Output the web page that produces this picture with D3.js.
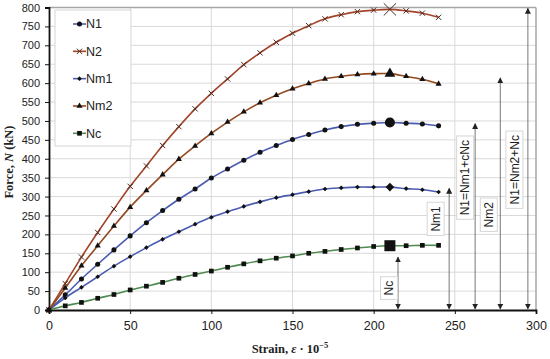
<!DOCTYPE html>
<html><head><meta charset="utf-8">
<script src="https://cdn.jsdelivr.net/npm/d3@7/dist/d3.min.js"></script>
<style>body{margin:0;background:#fff}svg{display:block}</style>
</head><body>
<svg id="c" width="550" height="359"></svg>
<script>
const strain = [0,10,20,30,40,50,60,70,80,90,100,110,120,130,140,150,160,170,180,190,200,210,220,230,240];
const N2  = [0,70,140,205,267,327,381,435,485,532,573,611,649,680,708,732,752,770,781,789,793,795,791,785,774];
const Nm2 = [0,58,117,170,222,272,316,358,399,434,467,497,524,548,568,585,599,611,618,623,625,625,618,610,598];
const N1  = [0,40,82,121,159,196,231,263,293,320,349,373,396,417,435,451,464,476,485,491,494,496,494,492,487];
const Nm1 = [0,32,60,88,116,141,165,187,207,227,245,260,274,286,297,305,313,320,323,325,325,325,321,318,312];
const Nc  = [0,11,20,31,41,53,63,73,84,94,103,113,122,130,137,143,150,155,160,164,168,170,170,171,171];
const peakIndex = 21;
const seriesNames = ["N1","N2","Nm1","Nm2","Nc"];
const xTicks = [0,50,100,150,200,250,300];
const yTicks = [0,50,100,150,200,250,300,350,400,450,500,550,600,650,700,750,800];
const annLabels = ["Nc","Nm1","N1=Nm1+cNc","Nm2","N1=Nm2+Nc"];
const annX   = [215,246.5,262.5,278,295];
const annTop = [140,322,493,614,798];
const annLabelY = [58,241,350,252,371];

const svg = d3.select("#c");
const x = d3.scaleLinear().domain([0,300]).range([49,536]);
const y = d3.scaleLinear().domain([0,800]).range([310,7.5]);

// gridlines
svg.append("g").selectAll("line").data(yTicks.slice(1,-1)).join("line")
  .attr("x1",x(0)).attr("x2",x(300)).attr("y1",d=>y(d)).attr("y2",d=>y(d))
  .attr("stroke","#d9d9d9").attr("stroke-width",1);
svg.append("g").selectAll("line").data(xTicks.slice(1,-1)).join("line")
  .attr("y1",y(0)).attr("y2",y(800)).attr("x1",d=>x(d)).attr("x2",d=>x(d))
  .attr("stroke","#d9d9d9").attr("stroke-width",1);
// border top / right
svg.append("line").attr("x1",x(0)).attr("x2",x(300)).attr("y1",y(800)).attr("y2",y(800)).attr("stroke","#a6a6a6").attr("stroke-width",1.5);
svg.append("line").attr("x1",x(300)).attr("x2",x(300)).attr("y1",y(800)).attr("y2",y(0)).attr("stroke","#a6a6a6").attr("stroke-width",1.5);

// axes
const xAxis = svg.append("g").attr("transform",`translate(0,${y(0)})`)
  .call(d3.axisBottom(x).tickValues(xTicks).tickSize(4).tickPadding(7));
xAxis.selectAll("text").attr("font-family","Liberation Sans, Arial").attr("font-size",12.5).attr("fill","#222");
xAxis.select(".domain").attr("stroke","#111").attr("stroke-width",1.8);
xAxis.selectAll(".tick line").attr("stroke","#111");
const yAxis = svg.append("g").attr("transform",`translate(${x(0)},0)`)
  .call(d3.axisLeft(y).tickValues(yTicks).tickSize(4).tickPadding(5));
yAxis.selectAll("text").attr("font-family","Liberation Sans, Arial").attr("font-size",11).attr("fill","#222");
yAxis.select(".domain").attr("stroke","#111").attr("stroke-width",1.8);
yAxis.selectAll(".tick line").attr("stroke","#111");

// titles
const xt = svg.append("text").attr("x",290).attr("y",353).attr("text-anchor","middle")
  .attr("font-family","Liberation Serif, serif").attr("font-weight","bold").attr("font-size",12.5).attr("fill","#222");
xt.append("tspan").text("Strain, ");
xt.append("tspan").attr("font-style","italic").text("ε");
xt.append("tspan").text(" · 10");
xt.append("tspan").attr("font-size",8.5).attr("dy",-5).text("−5");
const yt = svg.append("text").attr("transform","translate(13,162) rotate(-90)").attr("text-anchor","middle")
  .attr("font-family","Liberation Serif, serif").attr("font-weight","bold").attr("font-size",12.5).attr("fill","#222");
yt.append("tspan").text("Force, ");
yt.append("tspan").attr("font-style","italic").text("N");
yt.append("tspan").text(" (kN)");

// annotations
const defs = svg.append("defs");
defs.append("marker").attr("id","ah").attr("viewBox","0 0 10 10").attr("refX",9).attr("refY",5)
  .attr("markerWidth",6).attr("markerHeight",6).attr("orient","auto-start-reverse").attr("markerUnits","userSpaceOnUse")
  .append("path").attr("d","M0,0L10,5L0,10Z").attr("fill","#222");
const ann = svg.append("g");
annLabels.forEach((lab,i)=>{
  ann.append("line").attr("x1",x(annX[i])).attr("x2",x(annX[i])).attr("y1",y(0)-1).attr("y2",y(annTop[i]))
    .attr("stroke","#555").attr("stroke-width",0.8)
    .attr("marker-start","url(#ah)").attr("marker-end","url(#ah)");
});
annLabels.forEach((lab,i)=>{
  const cx = x(annX[i]) - (i===0?9:(i===2?10:(i===3?11.5:13.5)));
  const cy = y(annLabelY[i]);
  const g = ann.append("g").attr("transform",`translate(${cx},${cy}) rotate(-90)`);
  const t = g.append("text").attr("text-anchor","middle").attr("dy","0.35em")
    .attr("font-family","Liberation Sans, Arial").attr("font-size",12).attr("fill","#222").text(lab);
  const w = t.node().getComputedTextLength();
  g.insert("rect","text").attr("x",-w/2-4).attr("y",-8.5).attr("width",w+8).attr("height",17)
    .attr("fill","#fff").attr("stroke","#d6d6d6").attr("stroke-width",1);
});

// series
const series = [
  {name:"N1", vals:N1, color:"#4a5cb0", sym:d3.symbolCircle, s:20, big:80, stroke:false},
  {name:"N2", vals:N2, color:"#a3442a", sym:d3.symbolTimes, s:20, big:100, stroke:true},
  {name:"Nm1",vals:Nm1,color:"#4a5cb0", sym:d3.symbolDiamond2, s:14, big:48, stroke:false},
  {name:"Nm2",vals:Nm2,color:"#93481f", sym:d3.symbolTriangle, s:16, big:50, stroke:false},
  {name:"Nc", vals:Nc, color:"#4f8a4f", sym:d3.symbolSquare, s:22, big:121, stroke:false}
];
const line = d3.line().x((d,i)=>x(strain[i])).y(d=>y(d)).curve(d3.curveCatmullRom.alpha(0.5));
const plot = svg.append("g");
const drawSym = (sel, s, size, px, py) => {
  const p = sel.append("path").attr("d", d3.symbol(s.sym, size)())
    .attr("transform",`translate(${px},${py})`);
  if (s.stroke) p.attr("fill","none").attr("stroke","#4a2a20").attr("stroke-width",1);
  else p.attr("fill","#111");
};
series.forEach(s=>{
  plot.append("path").datum(s.vals).attr("d",line).attr("fill","none").attr("stroke",s.color).attr("stroke-width",1.6);
  s.vals.forEach((v,i)=>{ drawSym(plot, s, i===peakIndex? s.big : s.s, x(strain[i]), y(v)); });
});

// legend
const lg = svg.append("g");
lg.append("rect").attr("x",55).attr("y",10).attr("width",76).attr("height",136).attr("fill","#fff").attr("stroke","#d6d6d6");
const ly = d3.scalePoint().domain(seriesNames).range([24,133.3]);
series.forEach(s=>{
  const yy = ly(s.name);
  lg.append("line").attr("x1",73).attr("x2",86).attr("y1",yy).attr("y2",yy).attr("stroke",s.color).attr("stroke-width",1.6);
  drawSym(lg, s, s.s, 79.5, yy);
  lg.append("text").attr("x",86).attr("y",yy).attr("dy","0.35em").attr("font-family","Liberation Sans, Arial")
    .attr("font-size",12.5).attr("fill","#222").text(s.name);
});
</script>
</body></html>
